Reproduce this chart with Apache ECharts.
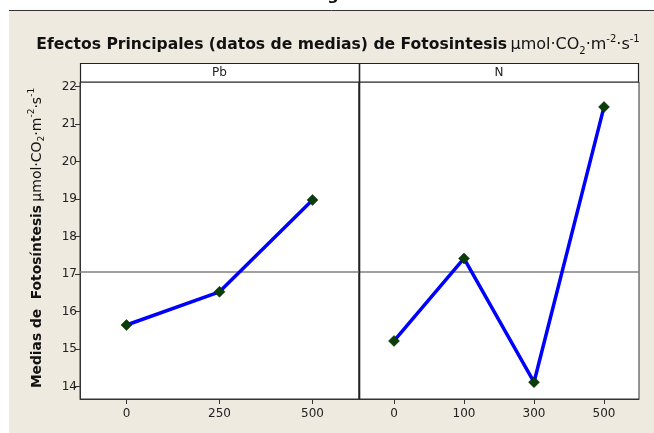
<!DOCTYPE html>
<html><head><meta charset="utf-8">
<script src="https://cdn.jsdelivr.net/npm/echarts@6/dist/echarts.min.js"></script>
<style>html,body{margin:0;padding:0;background:#fff}#c{width:654px;height:433px}</style>
</head><body><div id="c"></div>
<script>
var pbLevels = ['0', '250', '500'];
var pbMeans = [15.645, 16.53, 18.98];
var nLevels = ['0', '100', '300', '500'];
var nMeans = [15.22, 17.42, 14.12, 21.46];
var grandMean = 17.06;
var yTicks = [14, 15, 16, 17, 18, 19, 20, 21, 22];
var panelNames = ['Pb', 'N'];

var FONT = 'DejaVu Sans';
var chart = echarts.init(document.getElementById('c'), null, {renderer: 'canvas'});

function yAxisCfg(idx, showLabels) {
  return {
    type: 'value', gridIndex: idx, min: 13.672, max: 22.125,
    splitLine: {show: false},
    axisLine: {show: showLabels, lineStyle: {color: '#333', width: 1}},
    axisTick: {show: showLabels, length: 5, customValues: yTicks, lineStyle: {color: '#333'}},
    axisLabel: {show: showLabels, customValues: yTicks, margin: 3, color: '#222',
      fontFamily: FONT, fontSize: 12}
  };
}
function xAxisCfg(idx, cats) {
  return {
    type: 'category', gridIndex: idx, data: cats, boundaryGap: true,
    axisLine: {show: true, lineStyle: {color: '#333', width: 1}},
    axisTick: {show: true, alignWithLabel: true, length: 5, lineStyle: {color: '#333'}},
    axisLabel: {margin: 9, color: '#222', fontFamily: FONT, fontSize: 12},
    splitLine: {show: false}
  };
}
function seriesCfg(idx, vals) {
  return {
    type: 'line', xAxisIndex: idx, yAxisIndex: idx, data: vals,
    symbol: 'diamond', symbolSize: 11,
    itemStyle: {color: '#0a3d0a', borderColor: '#062a06', borderWidth: 0.5},
    lineStyle: {color: '#0000ff', width: 3.5},
    z: 5,
    markLine: {
      silent: true, symbol: ['none', 'none'], label: {show: false},
      lineStyle: {color: '#808080', type: 'solid', width: 1.5},
      data: [{yAxis: grandMean}], z: 3
    }
  };
}

var option = {
  animation: false,
  backgroundColor: '#EEEAE0',
  grid: [
    {left: 80, right: 295, top: 82, bottom: 34, show: true, backgroundColor: '#fff', borderColor: '#333', borderWidth: 1},
    {left: 359, right: 15, top: 82, bottom: 34, show: true, backgroundColor: '#fff', borderColor: '#333', borderWidth: 1}
  ],
  xAxis: [xAxisCfg(0, pbLevels), xAxisCfg(1, nLevels)],
  yAxis: [yAxisCfg(0, true), yAxisCfg(1, false)],
  series: [seriesCfg(0, pbMeans), seriesCfg(1, nMeans)],
  graphic: [
    {type: 'rect', shape: {x: 0, y: 0, width: 654, height: 10}, style: {fill: '#fff'}, z: -5},
    {type: 'rect', shape: {x: 0, y: 0, width: 9, height: 433}, style: {fill: '#fff'}, z: -5},
    {type: 'line', shape: {x1: 9, y1: 10.5, x2: 654, y2: 10.5}, style: {stroke: '#333', lineWidth: 1}, z: 10},
    {type: 'text', x: 333, y: -12, style: {text: 'g', font: 'bold 16px "DejaVu Sans"', fill: '#111', align: 'center', verticalAlign: 'top'}, z: 1},
    {type: 'rect', shape: {x: 80.5, y: 63.5, width: 558, height: 18.5}, style: {fill: '#fff', stroke: '#222', lineWidth: 1.2}, z: 10},
    {type: 'line', shape: {x1: 359.5, y1: 63, x2: 359.5, y2: 399}, style: {stroke: '#222', lineWidth: 1.6}, z: 10},
    {type: 'text', x: 219.5, y: 73, style: {text: panelNames[0], font: '12px "DejaVu Sans"', fill: '#222', align: 'center', verticalAlign: 'middle'}, z: 11},
    {type: 'text', x: 499, y: 73, style: {text: panelNames[1], font: '12px "DejaVu Sans"', fill: '#222', align: 'center', verticalAlign: 'middle'}, z: 11},
    {type: 'text', x: 338, y: 45, z: 11, style: {
      text: '{b|Efectos Principales (datos de medias) de Fotosintesis} {r|μmol·CO}{sub|2}{r|·m}{sup|-2}{r|·s}{sup|-1}',
      align: 'center', verticalAlign: 'middle',
      rich: {
        b: {font: 'bold 15.6px "DejaVu Sans"', fill: '#111', lineHeight: 22},
        r: {font: '16px "DejaVu Sans"', fill: '#111', lineHeight: 22},
        sub: {font: '10px "DejaVu Sans"', fill: '#111', lineHeight: 9, verticalAlign: 'bottom'},
        sup: {font: '10px "DejaVu Sans"', fill: '#111', lineHeight: 11, verticalAlign: 'top'}
      }
    }},
    {type: 'text', x: 37, y: 238, rotation: Math.PI / 2, z: 11, style: {
      text: '{b|Medias de  Fotosíntesis} {r|μmol·CO}{sub|2}{r|·m}{sup|-2}{r|·s}{sup|-1}',
      align: 'center', verticalAlign: 'middle',
      rich: {
        b: {font: 'bold 13.8px "DejaVu Sans"', fill: '#111', lineHeight: 19},
        r: {font: '14px "DejaVu Sans"', fill: '#111', lineHeight: 19},
        sub: {font: '9px "DejaVu Sans"', fill: '#111', lineHeight: 7, verticalAlign: 'bottom'},
        sup: {font: '9px "DejaVu Sans"', fill: '#111', lineHeight: 9, verticalAlign: 'top'}
      }
    }}
  ]
};
chart.setOption(option);
</script>
</body></html>
